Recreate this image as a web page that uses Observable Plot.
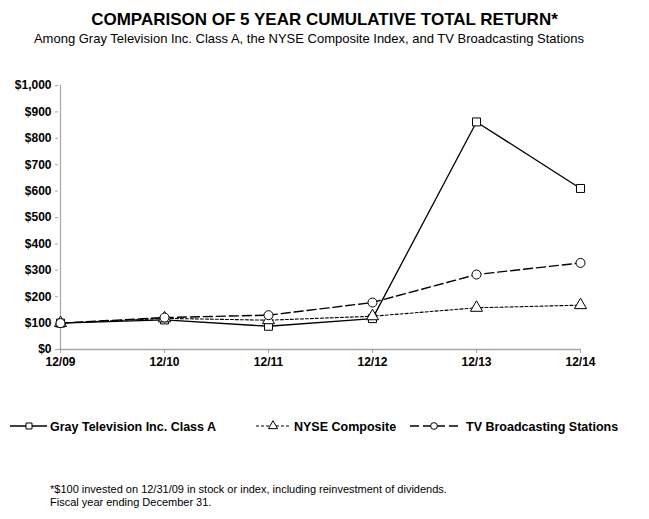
<!DOCTYPE html>
<html>
<head>
<meta charset="utf-8">
<script src="https://cdn.jsdelivr.net/npm/d3@7"></script>
<script src="https://cdn.jsdelivr.net/npm/@observablehq/plot@0.6"></script>
<style>
  body { margin:0; background:#fff; width:649px; height:519px; position:relative; overflow:hidden; font-family:"Liberation Sans", Arial, sans-serif; }
  #title { position:absolute; top:10px; left:0; width:649px; text-align:center; font-weight:bold; font-size:17px; color:#000; }
  #subtitle { position:absolute; top:31px; left:0; width:618px; text-align:center; font-size:13px; font-family:"Liberation Sans Narrow","Liberation Sans",Arial,sans-serif; color:#000; }
  #chart { position:absolute; top:70px; left:0; }
  #legend { position:absolute; top:410px; left:0; }
  #note { position:absolute; top:483px; left:50px; font-size:11px; line-height:13px; font-family:"Liberation Sans Narrow","Liberation Sans",Arial,sans-serif; color:#000; }
</style>
</head>
<body>
<div id="title">COMPARISON OF 5 YEAR CUMULATIVE TOTAL RETURN*</div>
<div id="subtitle">Among Gray Television Inc. Class A, the NYSE Composite Index, and TV Broadcasting Stations</div>
<div id="chart"></div>
<div id="legend"></div>
<div id="note">*$100 invested on 12/31/09 in stock or index, including reinvestment of dividends.<br>Fiscal year ending December 31.</div>
<script>
const periods = ["12/09","12/10","12/11","12/12","12/13","12/14"];
const seriesNames = ["Gray Television Inc. Class A","NYSE Composite","TV Broadcasting Stations"];
const grayValues = [100, 112, 88, 117, 862, 610];
const nyseValues = [100, 118, 111, 126, 158, 168];
const tvValues   = [100, 121, 130, 178, 284, 328];
const yTicks = [0,100,200,300,400,500,600,700,800,900,1000];

const styles = {
  "Gray Television Inc. Class A": {symbol:"square", dash:null, width:1.3},
  "NYSE Composite": {symbol:"triangle", dash:"3,2", width:1.1},
  "TV Broadcasting Stations": {symbol:"circle", dash:"9,4", width:1.4}
};
const valueLists = [grayValues, nyseValues, tvValues];
const data = [];
seriesNames.forEach((s,i) => periods.forEach((p,j) => data.push({series:s, period:p, value:valueLists[i][j]})));

const fmt = d => "$" + d3.format(",")(d);
const marks = [
  Plot.ruleX([periods[0]], {y1:0, y2:1000, stroke:"#a6a6a6", strokeWidth:1.2}),
  Plot.ruleY([0], {stroke:"#a6a6a6", strokeWidth:1.5}),
  Plot.axisY({ticks:yTicks, tickFormat:fmt, tickSize:3, stroke:"#a6a6a6", fontWeight:"bold", fontSize:12, tickPadding:4, label:null}),
  Plot.axisX({tickSize:4, stroke:"#a6a6a6", fontWeight:"bold", fontSize:12, tickPadding:4, label:null})
];
seriesNames.forEach(s => {
  const st = styles[s];
  const d = data.filter(r => r.series === s);
  marks.push(Plot.line(d, {x:"period", y:"value", stroke:"#000", strokeWidth:st.width, strokeDasharray:st.dash}));
});
seriesNames.forEach(s => {
  const st = styles[s];
  const d = data.filter(r => r.series === s);
  marks.push(Plot.dot(d, {x:"period", y:"value", symbol:() => st.symbol, r:4.5, fill:"#fff", stroke:"#000", strokeWidth:1}));
});

const chart = Plot.plot({
  width:649, height:300,
  marginTop:15, marginBottom:21, marginLeft:58, marginRight:68,
  style:{fontFamily:"'Liberation Sans', Arial, sans-serif", color:"#000", background:"transparent"},
  x:{type:"point", domain:periods, padding:0},
  y:{domain:[0,1000]},
  symbol:{type:"identity"},
  marks
});
document.getElementById("chart").appendChild(chart);

// legend
const leg = d3.select("#legend").append("svg").attr("width",649).attr("height",34);
const legendItems = [
  {name:seriesNames[0], x0:10, x1:47, mx:29, tx:50},
  {name:seriesNames[1], x0:256, x1:291, mx:273, tx:294},
  {name:seriesNames[2], x0:410, x1:462, mx:434, tx:466}
];
const symGen = {square:d3.symbolSquare, triangle:d3.symbolTriangle, circle:d3.symbolCircle};
legendItems.forEach(it => {
  const st = styles[it.name];
  const cy = 16;
  leg.append("line").attr("x1",it.x0).attr("x2",it.x1).attr("y1",cy).attr("y2",cy)
    .attr("stroke","#000").attr("stroke-width",st.width).attr("stroke-dasharray",st.dash);
  leg.append("path").attr("d", d3.symbol(symGen[st.symbol], 36)()).attr("transform",`translate(${it.mx},${cy})`)
    .attr("fill","#fff").attr("stroke","#000").attr("stroke-width",1);
  leg.append("text").attr("x",it.tx).attr("y",cy+4.5).text(it.name)
    .attr("font-family","'Liberation Sans Narrow','Liberation Sans',Arial,sans-serif")
    .attr("font-weight","bold").attr("font-size",12.5).attr("fill","#000");
});
</script>
</body>
</html>
